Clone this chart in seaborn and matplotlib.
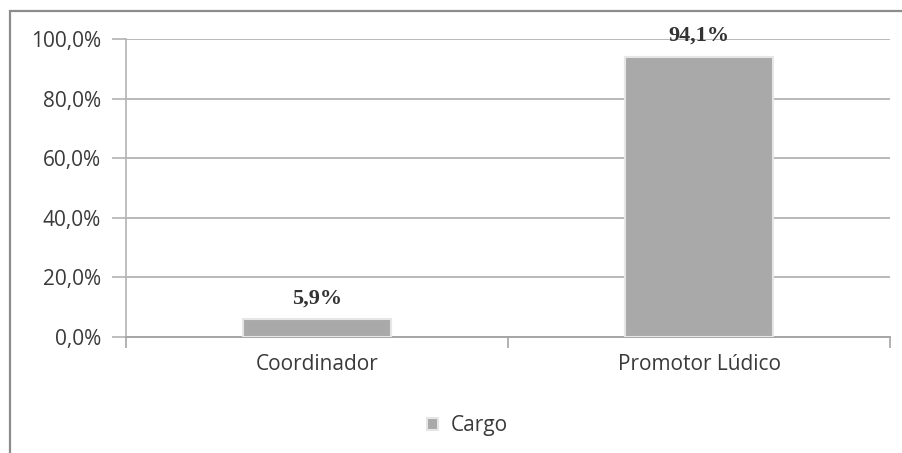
import matplotlib
matplotlib.use("Agg")
import matplotlib.pyplot as plt
import seaborn as sns
import pandas as pd
from matplotlib.patches import Rectangle
from matplotlib.ticker import FuncFormatter

categories = ["Coordinador", "Promotor Lúdico"]
values = [5.9, 94.1]
series_name = "Cargo"
y_ticks = [0, 20, 40, 60, 80, 100]

df = pd.DataFrame({"categoria": categories, "valor": values, "serie": series_name})

sns.set_theme(style="white")
plt.rcParams["font.family"] = ["Open Sans", "DejaVu Sans"]

fig = plt.figure(figsize=(9.02, 4.53), dpi=100)
ax = fig.add_axes([126 / 902, 1 - 337 / 453, (890 - 126) / 902, (337 - 39) / 453])

# outer chart frame (left and top edges visible)
fig.patches.append(Rectangle((10 / 902, -0.05), 1.2, 1 - 11 / 453 + 0.05,
                             transform=fig.transFigure, fill=False,
                             edgecolor="#8c8c8c", linewidth=1.6, zorder=0))

bar_color = "#a9a9a9"
sns.barplot(data=df, x="categoria", y="valor", hue="serie", palette=[bar_color],
            width=0.39, ax=ax, edgecolor="#e6e6e6", linewidth=1.5, zorder=3)

ax.set_ylim(0, 100)
ax.set_xlim(-0.5, 1.5)
ax.set_yticks(y_ticks)
ax.yaxis.set_major_formatter(FuncFormatter(lambda v, p: f"{v:.1f}%".replace(".", ",")))
ax.grid(axis="y", color="#b3b3b3", linewidth=1.3, zorder=0)
ax.set_axisbelow(True)
for s in ["top", "right"]:
    ax.spines[s].set_visible(False)
ax.spines["left"].set_color("#b3b3b3")
ax.spines["bottom"].set_color("#a6a6a6")
ax.spines["left"].set_linewidth(1.2)
ax.spines["bottom"].set_linewidth(1.4)
ax.tick_params(axis="y", length=10, color="#b3b3b3", width=1.2, labelsize=15,
               labelcolor="#3a3a3a", pad=8, left=True)
ax.set_xticks([-0.5, 0.5, 1.5], minor=True)
ax.tick_params(axis="x", which="minor", length=8, color="#a6a6a6", width=1.2, bottom=True)
ax.tick_params(axis="x", which="major", length=0, labelsize=15, labelcolor="#3a3a3a", pad=12)
ax.set_xlabel("")
ax.set_ylabel("")

for container in ax.containers:
    ax.bar_label(container, labels=[f"{v:.1f}%".replace(".", ",") for v in values],
                 padding=8, fontsize=16, fontweight="bold", color="#333333",
                 family=["Liberation Serif", "DejaVu Serif"])

leg = ax.legend(loc="upper center", bbox_to_anchor=(0.447, -0.2), frameon=False,
                fontsize=15, handlelength=0.5, handleheight=0.5, handletextpad=0.6)
for t in leg.get_texts():
    t.set_color("#3a3a3a")

fig.savefig("out.png", dpi=100, facecolor="white")
